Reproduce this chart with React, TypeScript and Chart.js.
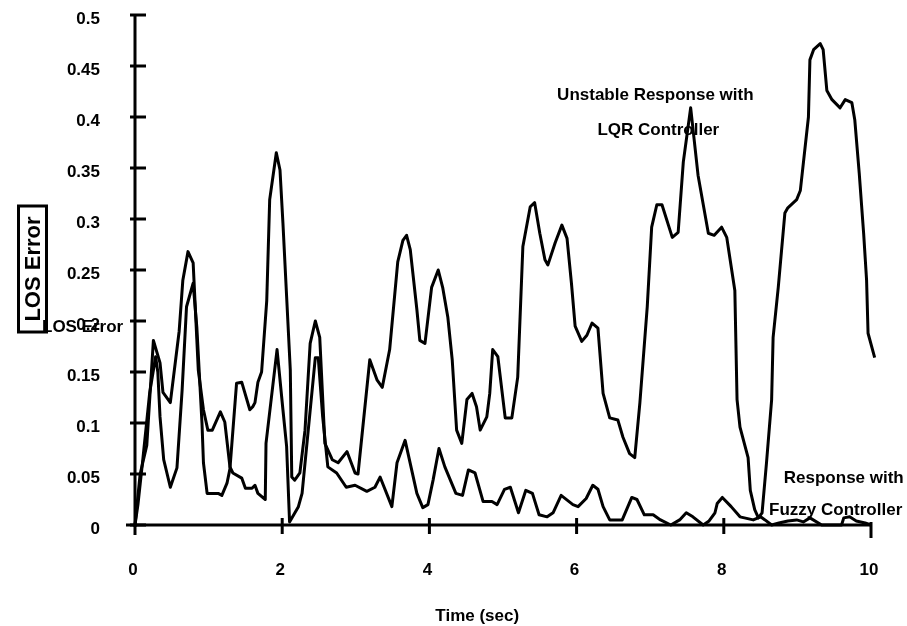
import React, { useEffect, useRef } from 'react';
import { Chart, registerables } from 'chart.js';

Chart.register(...registerables);

// ---- Data ----
const lqrTime = [0, 0.04, 0.1, 0.2, 0.28, 0.31, 0.34, 0.39, 0.48, 0.57, 0.64, 0.7, 0.79, 0.84, 0.91, 0.93, 0.98, 1.13, 1.18, 1.25, 1.29, 1.31, 1.38, 1.45, 1.56, 1.6, 1.63, 1.67, 1.72, 1.79, 1.83, 1.92, 1.97, 2.01, 2.06, 2.11, 2.13, 2.17, 2.24, 2.31, 2.38, 2.45, 2.51, 2.58, 2.68, 2.76, 2.88, 2.99, 3.03, 3.19, 3.29, 3.36, 3.46, 3.57, 3.64, 3.69, 3.74, 3.83, 3.87, 3.94, 4.03, 4.12, 4.18, 4.25, 4.31, 4.37, 4.44, 4.51, 4.58, 4.64, 4.69, 4.78, 4.82, 4.86, 4.93, 5.03, 5.12, 5.2, 5.27, 5.37, 5.43, 5.5, 5.57, 5.61, 5.71, 5.8, 5.87, 5.93, 5.98, 6.07, 6.14, 6.21, 6.29, 6.36, 6.45, 6.56, 6.63, 6.72, 6.79, 6.86, 6.96, 7.02, 7.09, 7.16, 7.3, 7.38, 7.45, 7.55, 7.65, 7.79, 7.87, 7.97, 8.04, 8.08, 8.15, 8.18, 8.22, 8.33, 8.36, 8.42, 8.47, 8.52, 8.58, 8.65, 8.67, 8.74, 8.83, 8.87, 8.99, 9.04, 9.15, 9.17, 9.22, 9.31, 9.35, 9.4, 9.47, 9.58, 9.65, 9.74, 9.78, 9.84, 9.9, 9.94, 9.96, 10.05];
const lqrError = [0, 0.02, 0.06, 0.13, 0.165, 0.15, 0.106, 0.064, 0.037, 0.056, 0.132, 0.214, 0.237, 0.194, 0.1, 0.061, 0.031, 0.031, 0.029, 0.041, 0.055, 0.074, 0.139, 0.14, 0.113, 0.116, 0.12, 0.14, 0.15, 0.22, 0.319, 0.365, 0.348, 0.296, 0.224, 0.152, 0.047, 0.044, 0.051, 0.093, 0.178, 0.2, 0.184, 0.08, 0.064, 0.061, 0.072, 0.051, 0.05, 0.162, 0.142, 0.135, 0.172, 0.258, 0.279, 0.284, 0.27, 0.211, 0.181, 0.178, 0.233, 0.25, 0.233, 0.204, 0.162, 0.093, 0.08, 0.123, 0.129, 0.116, 0.093, 0.106, 0.129, 0.172, 0.165, 0.105, 0.105, 0.145, 0.273, 0.312, 0.316, 0.286, 0.26, 0.255, 0.277, 0.294, 0.281, 0.237, 0.195, 0.18, 0.186, 0.198, 0.193, 0.129, 0.105, 0.103, 0.086, 0.07, 0.066, 0.12, 0.214, 0.292, 0.314, 0.314, 0.282, 0.287, 0.356, 0.409, 0.343, 0.286, 0.284, 0.292, 0.282, 0.263, 0.23, 0.123, 0.096, 0.066, 0.034, 0.015, 0.007, 0.012, 0.061, 0.123, 0.184, 0.233, 0.306, 0.311, 0.319, 0.328, 0.4, 0.456, 0.466, 0.472, 0.466, 0.426, 0.417, 0.409, 0.417, 0.414, 0.397, 0.345, 0.286, 0.24, 0.188, 0.164];

const fuzzyTime = [0, 0.07, 0.16, 0.25, 0.34, 0.38, 0.48, 0.6, 0.65, 0.72, 0.79, 0.86, 0.93, 0.99, 1.05, 1.16, 1.22, 1.29, 1.33, 1.45, 1.5, 1.59, 1.63, 1.67, 1.77, 1.78, 1.93, 2.01, 2.06, 2.1, 2.22, 2.27, 2.45, 2.49, 2.55, 2.62, 2.74, 2.87, 2.99, 3.15, 3.26, 3.33, 3.49, 3.56, 3.67, 3.83, 3.91, 3.98, 4.05, 4.13, 4.21, 4.36, 4.45, 4.53, 4.62, 4.73, 4.85, 4.92, 5.02, 5.1, 5.21, 5.31, 5.4, 5.49, 5.6, 5.68, 5.79, 5.95, 6.02, 6.13, 6.22, 6.29, 6.36, 6.45, 6.62, 6.75, 6.82, 6.92, 7.04, 7.14, 7.28, 7.4, 7.49, 7.58, 7.72, 7.8, 7.88, 7.91, 7.98, 8.1, 8.22, 8.4, 8.5, 8.56, 8.65, 8.75, 8.87, 8.99, 9.08, 9.17, 9.33, 9.6, 9.63, 9.71, 9.8, 9.92, 10.0];
const fuzzyError = [0, 0.05, 0.078, 0.181, 0.159, 0.13, 0.12, 0.19, 0.24, 0.268, 0.257, 0.152, 0.113, 0.093, 0.093, 0.111, 0.101, 0.057, 0.051, 0.046, 0.036, 0.036, 0.039, 0.031, 0.025, 0.08, 0.172, 0.113, 0.077, 0.003, 0.018, 0.031, 0.164, 0.164, 0.106, 0.057, 0.051, 0.037, 0.039, 0.033, 0.037, 0.047, 0.018, 0.061, 0.083, 0.031, 0.017, 0.02, 0.044, 0.075, 0.057, 0.031, 0.029, 0.054, 0.051, 0.023, 0.023, 0.02, 0.035, 0.037, 0.012, 0.034, 0.031, 0.01, 0.008, 0.012, 0.029, 0.02, 0.018, 0.026, 0.039, 0.035, 0.018, 0.005, 0.005, 0.027, 0.025, 0.01, 0.01, 0.005, 0, 0.005, 0.012, 0.008, 0, 0.004, 0.012, 0.021, 0.027, 0.018, 0.008, 0.005, 0.008, 0.005, 0, 0.002, 0.004, 0.005, 0.003, 0.007, 0, 0, 0.007, 0.008, 0.004, 0.002, 0];

const xTicks = [0, 2, 4, 6, 8, 10];
const xTickLabels = ['0', '2', '4', '6', '8', '10'];
const yTicks = [0, 0.05, 0.1, 0.15, 0.2, 0.25, 0.3, 0.35, 0.4, 0.45, 0.5];
const yTickLabels = ['0', '0.05', '0.1', '0.15', '0.2', '0.25', '0.3', '0.35', '0.4', '0.45', '0.5'];

const xAxisTitle = 'Time (sec)';
const yAxisTitle = 'LOS Error';

const annotationTexts = ['Unstable Response with', 'LQR Controller', 'Response with', 'Fuzzy Controller'];
const annotationX = [7.07, 7.11, 9.63, 9.52];
const annotationY = [0.4216, 0.387, 0.046, 0.0147];

const FONT = '"Liberation Sans", Arial, Helvetica, sans-serif';

const overlayPlugin = {
  id: 'overlay',
  beforeDatasetsDraw(chart: any) {
    const ctx = chart.ctx;
    const xs = chart.scales.x;
    const ys = chart.scales.y;
    ctx.save();
    ctx.fillStyle = '#000';
    ctx.font = `bold 17px ${FONT}`;
    ctx.textAlign = 'center';
    ctx.textBaseline = 'middle';
    annotationTexts.forEach((t, i) => {
      ctx.fillText(t, xs.getPixelForValue(annotationX[i]), ys.getPixelForValue(annotationY[i]));
    });
    ctx.restore();
  },
  afterDraw(chart: any) {
    const ctx = chart.ctx;
    const xs = chart.scales.x;
    const ys = chart.scales.y;
    const area = chart.chartArea;
    ctx.save();
    ctx.strokeStyle = '#000';
    ctx.fillStyle = '#000';
    ctx.lineWidth = 3;
    ctx.lineCap = 'butt';
    const x0 = xs.getPixelForValue(0);
    const y0 = ys.getPixelForValue(0);
    // y axis line
    ctx.beginPath();
    ctx.moveTo(x0, area.top - 1);
    ctx.lineTo(x0, y0 + 2);
    ctx.stroke();
    // x axis line
    ctx.beginPath();
    ctx.moveTo(x0 - 9, y0);
    ctx.lineTo(xs.getPixelForValue(10), y0);
    ctx.stroke();
    // y ticks (crossing)
    yTicks.forEach((v) => {
      const py = ys.getPixelForValue(v);
      ctx.beginPath();
      ctx.moveTo(x0 - 5, py);
      ctx.lineTo(x0 + 11, py);
      ctx.stroke();
    });
    // x ticks
    xTicks.forEach((v) => {
      const px = xs.getPixelForValue(v);
      ctx.beginPath();
      if (v === 0) {
        ctx.moveTo(px, y0);
        ctx.lineTo(px, y0 + 10);
      } else if (v === 10) {
        ctx.moveTo(px, y0 - 3);
        ctx.lineTo(px, y0 + 13);
      } else {
        ctx.moveTo(px, y0 - 7);
        ctx.lineTo(px, y0 + 9);
      }
      ctx.stroke();
    });
    // x axis title
    ctx.font = `bold 17px ${FONT}`;
    ctx.textAlign = 'center';
    ctx.textBaseline = 'middle';
    ctx.fillText(xAxisTitle, xs.getPixelForValue(4.65), y0 + 91);
    // y axis title in a box (rotated)
    const cx = 32.5;
    const cy = (area.top + area.bottom) / 2 - 1;
    ctx.lineWidth = 3;
    ctx.strokeRect(cx - 14, cy - 63, 28, 126);
    ctx.save();
    ctx.translate(cx, cy);
    ctx.rotate(-Math.PI / 2);
    ctx.font = `bold 22px ${FONT}`;
    ctx.fillText(yAxisTitle, 0, 1);
    ctx.restore();
    // horizontal duplicate label
    ctx.font = `bold 17px ${FONT}`;
    ctx.textAlign = 'left';
    ctx.fillText(yAxisTitle, 42, ys.getPixelForValue(0.194));
    ctx.restore();
  },
};

export default function App() {
  const canvasRef = useRef<HTMLCanvasElement | null>(null);

  useEffect(() => {
    if (!canvasRef.current) return;
    const lqrData = lqrTime.map((t, i) => ({ x: t, y: lqrError[i] }));
    const fuzzyData = fuzzyTime.map((t, i) => ({ x: t, y: fuzzyError[i] }));
    const chart = new Chart(canvasRef.current, {
      type: 'line',
      data: {
        datasets: [
          {
            label: 'Unstable Response with LQR Controller',
            data: lqrData,
            borderColor: '#000',
            borderWidth: 3,
            pointRadius: 0,
            tension: 0,
            fill: false,
            clip: false as any,
            borderJoinStyle: 'round',
          },
          {
            label: 'Response with Fuzzy Controller',
            data: fuzzyData,
            borderColor: '#000',
            borderWidth: 3,
            pointRadius: 0,
            tension: 0,
            fill: false,
            clip: false as any,
            borderJoinStyle: 'round',
          },
        ],
      },
      options: {
        animation: false,
        responsive: true,
        maintainAspectRatio: false,
        layout: { padding: { top: 15, right: 36, left: 0, bottom: 0 } },
        plugins: { legend: { display: false }, tooltip: { enabled: false } },
        scales: {
          x: {
            type: 'linear',
            min: 0,
            max: 10,
            grid: { display: false, drawTicks: true, tickLength: 35 },
            border: { display: false },
            afterBuildTicks: (scale: any) => {
              scale.ticks = xTicks.map((value) => ({ value }));
            },
            afterFit: (scale: any) => {
              scale.height = 101;
            },
            ticks: {
              padding: 0,
              labelOffset: -2,
              color: '#000',
              font: { family: FONT, weight: 'bold', size: 17 },
              callback: (_v: any, i: number) => xTickLabels[i],
            },
          },
          y: {
            type: 'linear',
            min: 0,
            max: 0.5,
            grid: { display: false, drawTicks: true, tickLength: 35 },
            border: { display: false },
            afterBuildTicks: (scale: any) => {
              scale.ticks = yTicks.map((value) => ({ value }));
            },
            afterFit: (scale: any) => {
              scale.width = 135;
            },
            ticks: {
              padding: 0,
              labelOffset: 4,
              color: '#000',
              font: { family: FONT, weight: 'bold', size: 17 },
              callback: (_v: any, i: number) => yTickLabels[i],
            },
          },
        },
      },
      plugins: [overlayPlugin],
    });
    return () => chart.destroy();
  }, []);

  return (
    <div style={{ position: 'fixed', left: 0, top: 0, width: 907, height: 626, background: '#fff' }}>
      <canvas ref={canvasRef} />
    </div>
  );
}
